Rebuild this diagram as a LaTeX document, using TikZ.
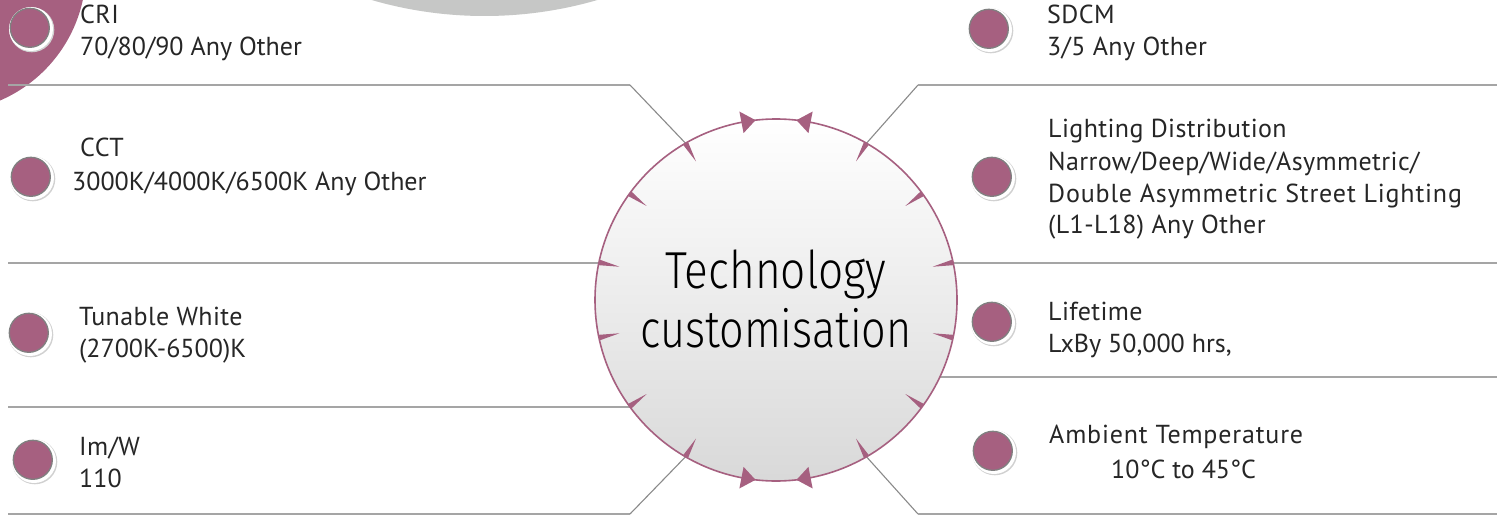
\documentclass[tikz,border=0pt]{standalone}
\usepackage{fontspec}
\setmainfont{PT Sans}
\newfontfamily\lightfont{Fira Sans Light}
\usetikzlibrary{calc}
\definecolor{mauve}{HTML}{A66080}
\definecolor{lineg}{HTML}{A5A5A5}
\definecolor{diagg}{HTML}{8A8A8A}
\definecolor{txt}{HTML}{262626}
\definecolor{arcg}{HTML}{C6C7C6}
\begin{document}
\begin{tikzpicture}[x=1pt,y=-1pt,
  hline/.style={draw=lineg,line width=1.8pt},
  dline/.style={draw=diagg,line width=1.1pt},
  lbl/.style={anchor=base west,inner sep=0pt,font=\fontsize{26}{30}\selectfont\addfontfeatures{LetterSpace=1.5},text=txt},
  lblnum/.style={anchor=base west,inner sep=0pt,font=\fontsize{26}{30}\selectfont,text=txt},
  lblwide/.style={anchor=base west,inner sep=0pt,font=\fontsize{26}{30}\selectfont\addfontfeatures{LetterSpace=3.2},text=txt},
  ctext/.style={anchor=base,inner sep=0pt,font=\lightfont\fontsize{52}{60}\selectfont,text=black},
  pics/bulletpic/.style={code={
    \fill[black!18] (0.8,0.8) circle (22.5);
    \fill[white] (0,0) circle (22);
    \fill[mauve] (-1.2,-1.2) circle (19.5);
    \draw[black!50,line width=1.3pt] (-1.2,-1.2) circle (19.5);
  }}
]
\useasboundingbox (0,0) rectangle (1507,516);
\clip (0,0) rectangle (1507,516);
\fill[white] (0,0) rectangle (1507,516);
% background shapes
\fill[arcg] (484.5,-387.5) circle (403.5);
\fill[mauve] (-56,-30) circle (142);

% coordinates
\coordinate (c) at (776,300);
\coordinate (L1a) at (8,85);   \coordinate (L1b) at (630,85);  \coordinate (L1c) at (685.5,143.2);
\coordinate (R1c) at (866.5,143.2); \coordinate (R1b) at (918,85); \coordinate (R1a) at (1497,85);
\coordinate (L2a) at (8,263);  \coordinate (L2b) at (598.8,263);
\coordinate (R2b) at (953.2,263); \coordinate (R2a) at (1497,263);
\coordinate (L3a) at (8,407);  \coordinate (L3b) at (630,407);
\coordinate (R3b) at (939.8,377); \coordinate (R3a) at (1497,377);
\coordinate (L4a) at (8,514);  \coordinate (L4b) at (630,514); \coordinate (L4c) at (685.5,456.8);
\coordinate (R4c) at (866.5,456.8); \coordinate (R4b) at (918,514); \coordinate (R4a) at (1497,514);

% lines
\draw[hline] (L1a) -- (L1b);
\draw[dline] (L1b) -- (L1c);
\draw[dline] (R1c) -- (R1b);
\draw[hline] (R1b) -- (R1a);
\draw[hline] (L2a) -- (L2b);
\draw[hline] (R2b) -- (R2a);
\draw[hline] (L3a) -- (L3b);
\draw[hline] (R3b) -- (R3a);
\draw[hline] (L4a) -- (L4b);
\draw[dline] (L4b) -- (L4c);
\draw[dline] (R4c) -- (R4b);
\draw[hline] (R4b) -- (R4a);

% central circle
\shade[top color=white,bottom color=black!15] (c) circle (181);
\draw[mauve,line width=1.6pt] (c) circle (181);
\foreach \a in {12,36,60,120,144,168,192,216,240,300,324,348}{
  \fill[mauve,shift={(c)}] (-\a+0.9:181) -- (-\a:160) -- (-\a-0.9:181) -- cycle;
}
\fill[mauve,shift={(c)}] (-101:170) -- (-101:192) -- (-96.5:181) -- cycle;
\fill[mauve,shift={(c)}] (-79:170) -- (-79:192) -- (-83.5:181) -- cycle;
\fill[mauve,shift={(c)}] (-259:170) -- (-259:192) -- (-263.5:181) -- cycle;
\fill[mauve,shift={(c)}] (-281:170) -- (-281:192) -- (-276.5:181) -- cycle;

\node[ctext] (t1) at (776,288) {\scalebox{0.85}[1]{Technology}};
\node[ctext] (t2) at (776,347) {\scalebox{0.83}[1]{customisation}};

% bullets
\pic at (31,29) {bulletpic};
\pic at (32,178) {bulletpic};
\pic at (30,334) {bulletpic};
\pic at (34,461) {bulletpic};
\pic at (990,30) {bulletpic};
\pic at (993,178) {bulletpic};
\pic at (993,323) {bulletpic};
\pic at (994,452) {bulletpic};

% labels left
\node[lbl] (cri1) at (80,24) {CRI};
\node[lblnum] (cri2) at (80,56) {70/80/90 Any Other};
\node[lbl] (cct1) at (80,157) {CCT};
\node[lblnum] (cct2) at (72,190) {3000K/4000K/6500K Any Other};
\node[lbl] (tw1) at (79,325) {Tunable White};
\node[lblnum] (tw2) at (79,357) {(2700K-6500)K};
\node[lbl] (lm1) at (79,455) {Im/W};
\node[lblnum] (lm2) at (79,487) {110};
% labels right
\node[lbl] (sd1) at (1047,24) {SDCM};
\node[lbl] (sd2) at (1047,56) {3/5 Any Other};
\node[lbl] (ld1) at (1048,138) {Lighting Distribution};
\node[lbl] (ld2) at (1048,170) {Narrow/Deep/Wide/Asymmetric/};
\node[lblwide] (ld3) at (1048,202) {Double Asymmetric Street Lighting};
\node[lbl] (ld4) at (1048,233) {(L1-L18) Any Other};
\node[lbl] (lf1) at (1048,320) {Lifetime};
\node[lblnum] (lf2) at (1048,352) {LxBy 50,000 hrs,};
\node[lblwide] (am1) at (1049,443) {Ambient Temperature};
\node[lblnum] (am2) at (1111,478) {10°C to 45°C};
\end{tikzpicture}
\end{document}
